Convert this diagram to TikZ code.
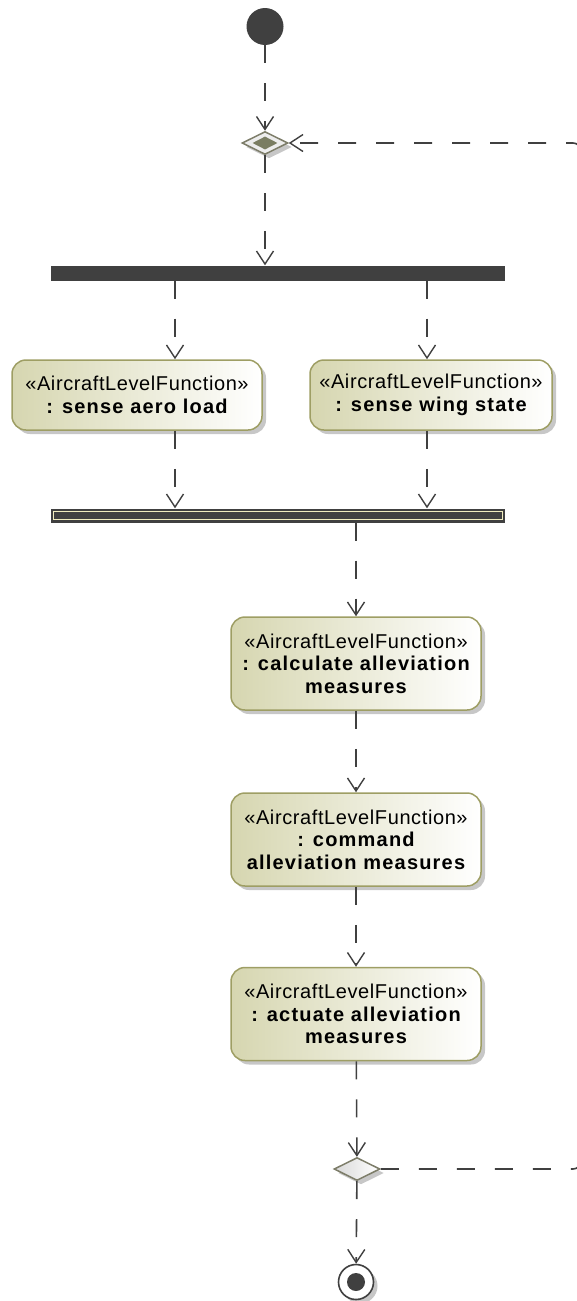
\documentclass[tikz,border=0pt]{standalone}
\usepackage{fontspec}
\setmainfont{Liberation Sans}
\usetikzlibrary{arrows.meta,shapes.geometric,shadows}
\definecolor{lineC}{HTML}{404040}
\definecolor{actBorder}{RGB}{158,158,100}
\definecolor{actFill}{RGB}{214,214,176}
\definecolor{decBorder}{RGB}{125,125,105}
\definecolor{decInner}{RGB}{122,125,98}
\definecolor{barCream}{RGB}{240,236,190}
\newcommand{\stereo}[1]{{\addfontfeature{LetterSpace=3}#1}}
\newcommand{\actname}[1]{{\bfseries\addfontfeature{LetterSpace=6}#1}}
\tikzset{
  shad/.style={drop shadow={shadow xshift=4pt,shadow yshift=-4pt,fill=black,opacity=0.22}},
  act/.style={rectangle, rounded corners=14pt, draw=actBorder, line width=1.5pt,
    left color=actFill, right color=white, align=center, inner sep=0pt, shad,
    font=\fontsize{20}{22.5}\selectfont},
  flow/.style={draw=lineC, line width=1.6pt, dash pattern=on 18pt off 20pt,
    -{Straight Barb[length=13pt,width=17pt,line width=1.4pt]}},
  decis/.style={diamond, aspect=2, draw=decBorder, line width=1.5pt, inner sep=0pt,
    minimum width=46pt, minimum height=23pt, shad},
  bar/.style={rectangle, fill=lineC, inner sep=0pt, minimum width=454pt}
}
\begin{document}
\begin{tikzpicture}[x=1pt,y=-1pt]
\useasboundingbox (0,0) rectangle (577,1301);
\clip (0,0) rectangle (577,1301);
% nodes
\node[circle, fill=lineC, minimum size=37pt, inner sep=0pt] (start) at (265,26.5) {};
\node[decis, fill=gray!14] (td) at (265,143) {};
\node[diamond, aspect=2, fill=decInner, minimum width=25pt, minimum height=13pt, inner sep=0pt] (tdi) at (td) {};
\node[bar, minimum height=15pt] (fork) at (278,273) {};
\node[act, minimum width=250pt, minimum height=70pt] (n1) at (137,395)
  {\stereo{«AircraftLevelFunction»}\\\actname{: sense aero load}};
\node[act, minimum width=242pt, minimum height=70pt] (n2) at (431,395)
  {\stereo{«AircraftLevelFunction»}\\\actname{: sense wing state}};
\node[bar, minimum height=14pt] (join) at (278,515.5) {};
\draw[barCream, line width=1pt] ([shift={(3,-3)}]join.south west) rectangle ([shift={(-3,3)}]join.north east);
\node[act, minimum width=250pt, minimum height=93pt] (n3) at (356,663.5)
  {\stereo{«AircraftLevelFunction»}\\\actname{: calculate alleviation}\\\actname{measures}};
\node[act, minimum width=250pt, minimum height=93pt] (n4) at (356,839.5)
  {\stereo{«AircraftLevelFunction»}\\\actname{: command}\\\actname{alleviation measures}};
\node[act, minimum width=250pt, minimum height=93pt] (n5) at (356,1014)
  {\stereo{«AircraftLevelFunction»}\\\actname{: actuate alleviation}\\\actname{measures}};
\node[decis, left color=gray!30, right color=white] (bd) at (357,1169) {};
\node[circle, draw=lineC, fill=white, line width=1.6pt, minimum size=35pt, inner sep=0pt, shad] (fin) at (356,1282) {};
\node[circle, fill=lineC, minimum size=18pt, inner sep=0pt] (findot) at (fin) {};
% connectors
\coordinate (cL) at (175,0);
\coordinate (cR) at (427,0);
\coordinate (loopB) at (581,1169);
\coordinate (loopT) at (581,143);
\draw[flow] (start) -- (td);
\draw[flow] (td) -- (td |- fork.north);
\draw[flow] (cL |- fork.south) -- (cL |- n1.north);
\draw[flow] (cR |- fork.south) -- (cR |- n2.north);
\draw[flow] (cL |- n1.south) -- (cL |- join.north);
\draw[flow] (cR |- n2.south) -- (cR |- join.north);
\draw[flow] (n3 |- join.south) -- (n3.north);
\draw[flow] (n3) -- (n4);
\draw[flow] (n4) -- (n5);
\draw[flow] (n5) -- (bd);
\draw[flow] (bd) -- (fin);
\draw[flow, rounded corners=8pt] (bd.east) -- (loopB) -- (loopT) -- (td.east);
\end{tikzpicture}
\end{document}
